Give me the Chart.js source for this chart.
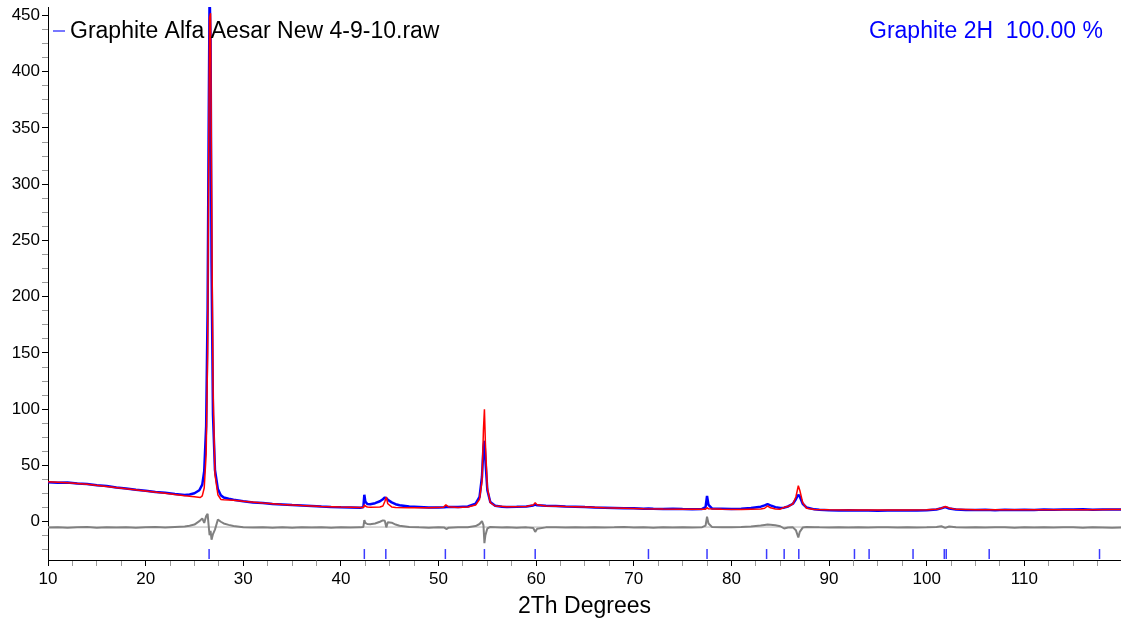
<!DOCTYPE html>
<html>
<head>
<meta charset="utf-8">
<title>Graphite XRD</title>
<script src="https://cdn.jsdelivr.net/npm/chart.js@4"></script>
<style>
    body { margin: 0; background: #fff; }
    canvas { display: block; }
</style>
</head>
<body>
<canvas id="chart" width="1121" height="625"></canvas>
<script>
// DATA (2Th, counts)
const observed = [
    [10,35.2],[11,34.6],[12,34.8],[13,33.9],[14,33.6],[15,32.4],[16,31.7],[17,30.4],[18,29.6],[19,28.4],
    [20,27.6],[21,26.4],[22,25.7],[23,24.6],[24,23.8],[24.5,24.2],[25,25.3],[25.5,28],[25.8,33],[26.0,45],
    [26.2,85],[26.35,190],[26.45,340],[26.55,470],[26.65,430],[26.75,230],[26.9,95],[27.1,46],[27.4,29],[27.7,23.5],
    [28,21.5],[28.5,20.4],[29,19.6],[30,18.2],[31,17.1],[32,16.6],[33,15.8],[34,15.4],[35,14.9],[36,14.5],
    [37,14.1],[38,13.6],[39,13.2],[40,12.9],[41,12.7],[42,12.4],[42.3,13],[42.4,24],[42.5,18],[42.7,15.8],
    [43,15.5],[43.5,16.5],[44,18.2],[44.3,20],[44.5,21.5],[44.65,21],[44.8,19.6],[45.2,17.2],[45.6,15.6],[46,14.6],
    [47,13.5],[48,13.1],[49,12.6],[50,12.7],[50.6,12.9],[50.8,13.2],[51,13],[52,13.1],[53,13.6],[53.8,16],
    [54.2,22],[54.45,40],[54.6,66],[54.7,72],[54.8,55],[55,28],[55.3,17.5],[55.8,14.2],[56.5,13.4],[57,13.2],
    [58,13.3],[59,13.6],[59.7,14.5],[59.9,15.2],[60.1,14.6],[61,14.2],[62,14],[63,13.6],[64,13.4],[65,13],
    [66,12.7],[67,12.5],[68,12.3],[69,12],[70,12.1],[71,11.6],[71.5,11.7],[72,11.5],[73,11.4],[74,11.6],
    [75,11.3],[76,11.2],[77,11.4],[77.35,13],[77.5,23],[77.65,15],[78,11.8],[79,11.6],[80,11.4],[81,11.6],
    [82,12.3],[83,13.4],[83.4,14.5],[83.7,15.6],[84,14.6],[84.5,13],[85,12.3],[85.4,12.5],[85.8,13.6],[86.3,16],
    [86.6,20],[86.85,24],[87,22.5],[87.3,16],[87.7,12.6],[88.5,11],[89,10.6],[90,10.3],[91,10.1],[92,10.2],
    [93,10],[94,10.1],[95,9.8],[96,10],[97,9.9],[98,10.1],[99,10],[100,10.3],[101,10.9],[101.5,12],
    [101.9,13],[102.3,11.8],[103,10.8],[104,10.5],[105,10.4],[106,10.6],[107,10.3],[108,10.7],[109,10.5],[110,10.7],
    [111,10.5],[112,10.8],[113,10.6],[114,10.8],[115,10.9],[116,11],[117,10.7],[118,10.9],[119,10.8],[120,10.8]
];

const calculated = [
    [10,35.5],[12,34.6],[14,33.3],[16,31.4],[18,29.3],[20,27.4],[22,25.3],[24,23.2],[25,22.2],[25.6,21.5],
    [25.8,23],[26.0,30],[26.2,60],[26.35,150],[26.45,310],[26.55,448],[26.65,452],[26.75,300],[26.9,120],[27.1,42],
    [27.4,24],[27.7,19.8],[28,19.6],[29,19.2],[30,18.3],[32,16.7],[34,15.4],[36,14.4],[38,13.6],[40,13],
    [42,12.6],[42.3,12.7],[42.4,15],[42.5,14],[42.7,13.1],[43,12.8],[44,13.1],[44.3,14],[44.5,18],[44.65,22],
    [44.8,16],[45.2,13.2],[45.6,12.7],[47,12.5],[49,12.4],[50.5,12.8],[50.75,15],[51,13.4],[52,12.6],[53,13.1],
    [53.8,14.8],[54.2,20],[54.45,36],[54.6,82],[54.7,100],[54.8,70],[55,30],[55.3,17],[55.8,14],[57,13.3],
    [59,13.6],[59.7,14.8],[59.9,17],[60.1,15],[61,14.1],[63,13.5],[65,13],[67,12.4],[69,12],[71,11.6],
    [73,11.3],[75,11.1],[77,11],[77.35,11.2],[77.5,12.5],[77.65,11.5],[79,11],[81,10.9],[83,11.4],[83.4,12],
    [83.7,14],[84,12.4],[84.5,11.3],[85,11.2],[85.4,12.8],[85.8,13.5],[86.3,16],[86.6,22],[86.85,32],[87,28],
    [87.3,17],[87.7,12],[88.5,10.9],[90,10.6],[92,10.5],[94,10.4],[96,10.4],[98,10.5],[100,10.7],[101,11.1],
    [101.5,12],[101.9,13.5],[102.3,12.3],[103,11],[105,10.7],[107,10.6],[109,10.6],[111,10.6],[113,10.7],[115,10.7],
    [117,10.7],[119,10.8],[120,10.8]
];

const difference = [
    [10,-5.2],[11,-4.8],[12,-5.4],[13,-5],[14,-4.7],[15,-5.3],[16,-4.9],[17,-5.2],[18,-4.8],[19,-5.3],
    [20,-5],[21,-4.7],[22,-5.1],[23,-4.6],[24,-4.2],[24.5,-3.6],[25,-2.5],[25.5,0.5],[25.8,3],[26.0,-1],
    [26.2,5],[26.35,7],[26.45,-3],[26.55,-12],[26.65,-8],[26.75,-16],[26.9,-11],[27.1,-7],[27.4,2],[27.7,0],
    [28,-1.5],[28.5,-2.8],[29,-3.8],[30,-4.8],[31,-5.2],[32,-4.9],[33,-5.3],[34,-5],[35,-5.4],[36,-4.9],
    [37,-5.2],[38,-5],[39,-5.3],[40,-5],[41,-5.2],[42,-5],[42.3,-4.6],[42.4,1.5],[42.5,-1],[42.7,-2],
    [43,-2.2],[43.5,-1.6],[44,0],[44.3,1.2],[44.5,0.8],[44.65,-5],[44.8,-0.5],[45.2,-0.8],[45.6,-2.5],[46,-3.6],
    [47,-4.6],[48,-5],[49,-5.3],[50,-4.9],[50.6,-5.2],[50.8,-6.5],[51,-5.4],[52,-5],[53,-4.8],[53.8,-3.8],
    [54.2,-2],[54.45,0.5],[54.6,-3],[54.7,-19],[54.8,-12],[55,-6],[55.3,-4.6],[55.8,-4.8],[56.5,-5.2],[57,-5],
    [58,-5.3],[59,-5],[59.7,-5.6],[59.9,-9],[60.1,-6.2],[61,-5],[62,-4.8],[63,-5.2],[64,-4.9],[65,-5.1],
    [66,-4.8],[67,-5.2],[68,-5],[69,-4.7],[70,-5.1],[71,-5],[72,-5.3],[73,-4.9],[74,-5.1],[75,-5],
    [76,-5.2],[77,-4.8],[77.35,-3.5],[77.5,4.5],[77.65,-1.5],[78,-4.6],[79,-5],[80,-4.9],[81,-4.7],[82,-4.2],
    [83,-3.4],[83.4,-2.8],[83.7,-2.4],[84,-2.6],[84.5,-3.2],[85,-4],[85.4,-6],[85.8,-5.2],[86.3,-5],[86.6,-7.5],
    [86.85,-14],[87,-9],[87.3,-5.2],[87.7,-4.6],[88.5,-4.8],[89,-5],[90,-5.2],[91,-4.9],[92,-5.1],[93,-4.8],
    [94,-5.2],[95,-5],[96,-4.8],[97,-5.1],[98,-4.9],[99,-5.2],[100,-5],[101,-4.6],[101.5,-4],[101.9,-5.5],
    [102.3,-4.2],[103,-4.8],[104,-5.1],[105,-4.9],[106,-5.2],[107,-4.8],[108,-5],[109,-5.3],[110,-4.9],[111,-5.1],
    [112,-4.8],[113,-5.2],[114,-4.9],[115,-5],[116,-5.3],[117,-4.8],[118,-5.1],[119,-5.4],[120,-5.2]
];

const diffZero = [[10,-4.7],[120,-4.7]];

// Graphite 2H reflection positions
const reflections = [26.5, 42.4, 44.6, 50.7, 54.7, 59.9, 71.5, 77.5, 83.6, 85.4, 86.9, 92.6, 94.1, 98.6, 101.8, 102.0, 106.4, 117.7];

const seriesName = "Graphite Alfa Aesar New 4-9-10.raw";
const phaseLabel = "Graphite 2H  100.00 %";
const xTitle = "2Th Degrees";

const FONT = '"Liberation Sans", Arial, sans-serif';
const tickRowY = -28.7;

// text in the plot corners
const cornerText = {
    id: "cornerText",
    afterDraw(chart) {
        const ctx = chart.ctx;
        ctx.save();
        ctx.font = "23px " + FONT;
        ctx.textBaseline = "alphabetic";

        ctx.strokeStyle = "#4a4aff";
        ctx.lineWidth = 1.5;
        ctx.beginPath();
        ctx.moveTo(53, 31);
        ctx.lineTo(65, 31);
        ctx.stroke();

        ctx.fillStyle = "#000";
        ctx.textAlign = "left";
        ctx.fillText(seriesName, 70, 38);

        ctx.fillStyle = "#0000ff";
        ctx.textAlign = "right";
        ctx.fillText(phaseLabel, 1103, 38);
        ctx.restore();
    }
};

const ctx = document.getElementById("chart").getContext("2d");

new Chart(ctx, {
    type: "scatter",
    data: {
        datasets: [
            {
                label: "calc",
                data: calculated,
                showLine: true,
                borderColor: "#ff0000",
                borderWidth: 1.5,
                borderJoinStyle: "bevel",
                pointRadius: 0,
                order: 1
            },
            {
                label: seriesName,
                data: observed,
                showLine: true,
                borderColor: "#0000ff",
                borderWidth: 2.5,
                borderJoinStyle: "bevel",
                pointRadius: 0,
                order: 2
            },
            {
                label: "diff",
                data: difference,
                showLine: true,
                borderColor: "#808080",
                borderWidth: 2,
                borderJoinStyle: "bevel",
                pointRadius: 0,
                order: 3
            },
            {
                label: "zero",
                data: diffZero,
                showLine: true,
                borderColor: "#b4b4b4",
                borderWidth: 1,
                pointRadius: 0,
                order: 4
            },
            {
                label: "Graphite 2H",
                data: reflections.map(x => ({ x: x, y: tickRowY })),
                showLine: false,
                pointStyle: "line",
                rotation: 90,
                pointRadius: 5,
                borderColor: "#3b3bff",
                borderWidth: 1.5,
                order: 0
            }
        ]
    },
    options: {
        responsive: false,
        animation: false,
        layout: {
            autoPadding: false,
            padding: { top: 7, right: 0, left: 0, bottom: 0 }
        },
        plugins: {
            legend: { display: false },
            tooltip: { enabled: false }
        },
        scales: {
            x: {
                type: "linear",
                min: 10,
                max: 119.9,
                afterFit: s => {
                    s.height = 65;
                    s.paddingLeft = 0;
                    s.paddingRight = 0;
                },
                border: { color: "#000", width: 1 },
                grid: {
                    display: true,
                    drawOnChartArea: false,
                    tickLength: 6,
                    tickColor: c => (c.tick && c.tick.value % 10 === 0) ? "#000" : "#999"
                },
                ticks: {
                    stepSize: 2.5,
                    includeBounds: false,
                    autoSkip: false,
                    maxRotation: 0,
                    padding: 3,
                    color: "#000",
                    font: { family: FONT, size: 17 },
                    callback: v => v % 10 === 0 ? v : ""
                },
                title: {
                    display: true,
                    text: xTitle,
                    color: "#000",
                    font: { family: FONT, size: 23 },
                    padding: { top: 0, bottom: 5 }
                }
            },
            y: {
                min: -34,
                max: 457.5,
                afterFit: s => {
                    s.width = 48;
                    s.paddingTop = 0;
                    s.paddingBottom = 0;
                },
                border: { color: "#000", width: 1 },
                grid: {
                    display: true,
                    drawOnChartArea: false,
                    tickLength: 6,
                    tickColor: c => (c.tick && c.tick.value % 50 === 0) ? "#000" : "#999"
                },
                ticks: {
                    stepSize: 12.5,
                    includeBounds: false,
                    autoSkip: false,
                    padding: 2,
                    color: "#000",
                    font: { family: FONT, size: 17 },
                    callback: v => v % 50 === 0 ? v : ""
                }
            }
        }
    },
    plugins: [cornerText]
});
</script>
</body>
</html>
